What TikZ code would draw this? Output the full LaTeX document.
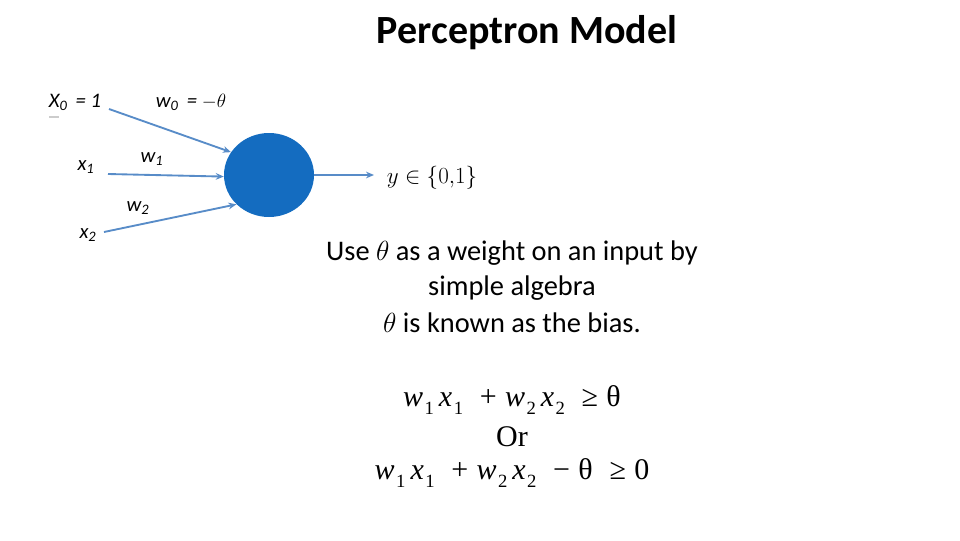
\documentclass[tikz,border=0pt]{standalone}
\usepackage{fontspec}
\setmainfont{Carlito}
\newfontfamily\seriffont{Liberation Serif}
\usetikzlibrary{shapes.geometric,arrows.meta}
\definecolor{neuronblue}{RGB}{20,108,192}
\definecolor{arrowblue}{RGB}{88,140,200}
\newcommand{\vsb}[2]{\textit{#1}\kern0.05em\raisebox{-0.25em}{\fontsize{14}{15}\selectfont #2}}
\tikzset{
  inarrow/.style={draw=arrowblue, line width=1.4pt, -{Stealth[length=6pt,width=5pt]}},
  lbl/.style={inner sep=0pt, font=\fontsize{15.5}{18}\selectfont\itshape},
  body/.style={inner sep=0pt, font=\fontsize{21.3}{25}\selectfont},
  eq/.style={inner sep=0pt, font=\seriffont\fontsize{22.5}{25}\selectfont}
}
\begin{document}
\begin{tikzpicture}[x=0.75pt,y=-0.75pt]
\useasboundingbox (0,0) rectangle (960,540);
% title
\node[inner sep=0pt, font=\fontsize{30}{34}\selectfont\bfseries] (title) at (527,33) {Perceptron Model};
% neuron
\node[ellipse, fill=neuronblue, minimum width=67.5pt, minimum height=63pt, inner sep=0pt] (neuron) at (269,175) {};
% input start points
\coordinate (s0) at (109,109);
\coordinate (s1) at (108,174);
\coordinate (s2) at (104,232);
\coordinate (out) at (374,175);
\draw[inarrow] (s0) -- (neuron.149);
\draw[inarrow] (s1) -- (neuron.182);
\draw[inarrow] (s2) -- (neuron.222);
\draw[inarrow] (neuron.east) -- (out);
% small grey mark
\draw[draw=black!20, line width=0.8pt] (49,117) -- (59,117);
% input labels
\node[lbl] (x0) at (75,102) {X\textsubscript{0}\, = 1};
\node[lbl] (w0) at (191,102) {w\textsubscript{0}\, = $-\theta$};
\node[lbl] (x1) at (86,167) {x\textsubscript{1}};
\node[lbl] (w1) at (152,159) {w\textsubscript{1}};
\node[lbl] (w2) at (138,208) {w\textsubscript{2}};
\node[lbl] (x2) at (88,235) {x\textsubscript{2}};
% output label
\node[inner sep=0pt, font=\fontsize{17}{20}\selectfont] (y) at (432,178) {$y\in\{0{,}1\}$};
% text block
\node[body] (t1) at (512,253) {Use $\theta$ as a weight on an input by};
\node[body] (t2) at (512,288) {simple algebra};
\node[body] (t3) at (512,323) {$\theta$ is known as the bias.};
% equations
\node[eq] (e1) at (512,400) {\vsb{w}{1}\,\vsb{x}{1}\;\;+\;\vsb{w}{2}\,\vsb{x}{2}\;\;≥\;θ};
\node[eq] (or) at (512,437) {Or};
\node[eq] (e2) at (512,473) {\vsb{w}{1}\,\vsb{x}{1}\;\;+\;\vsb{w}{2}\,\vsb{x}{2}\;\;−\;θ\;\;≥\;0};
\end{tikzpicture}
\end{document}
